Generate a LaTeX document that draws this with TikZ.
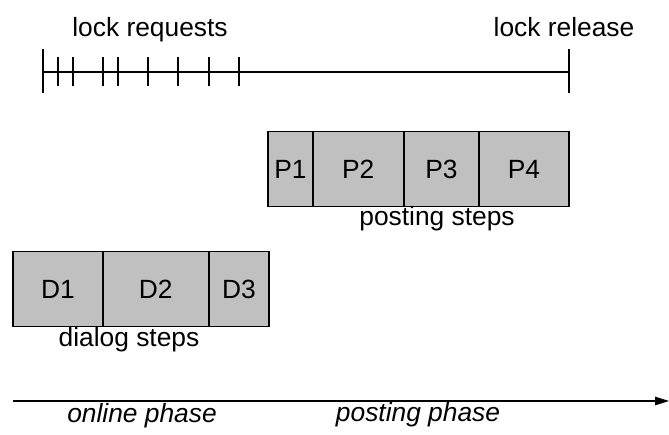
\documentclass[tikz,border=0pt]{standalone}
\usepackage{fontspec}
\setmainfont{Liberation Sans}
\usetikzlibrary{arrows.meta}
\definecolor{stepgray}{RGB}{192,192,192}

\begin{document}
\begin{tikzpicture}[x=0.02cm, y=-0.02cm,
% common options for the step boxes:
stepbox/.style = {draw, fill=stepgray, line width=0.6pt, anchor=west,
            minimum height=1.50cm, inner sep=0, outer sep=0,
            font=\fontsize{15}{18}\selectfont},
% common options for the labels:
lbl/.style = {anchor=base, inner sep=0, font=\fontsize{15}{18}\selectfont},
phase/.style = {lbl, font=\fontsize{15}{18}\selectfont\itshape}]
\useasboundingbox (0,0) rectangle (669,435);
% lock time line
\node[lbl] (req) at (150,37) {lock requests};
\node[lbl] (rel) at (564,37) {lock release};
\coordinate (L0) at (43,72);
\coordinate (L1) at (569,72);
\draw[line width=0.6pt] (L0) -- (L1);
\draw[line width=0.6pt] (43,49) -- (43,93);
\draw[line width=0.6pt] (569,49) -- (569,93);
\foreach \x in {58,73,103,118,148,178,209,239}
  \draw[line width=0.6pt] (\x,57) -- (\x,86);
% posting steps
\node[stepbox, minimum width=0.90cm] (P1) at (268,169) {P1};
\node[stepbox, minimum width=1.81cm] (P2) at (313,169) {P2};
\node[stepbox, minimum width=1.50cm] (P3) at (404,169) {P3};
\node[stepbox, minimum width=1.80cm] (P4) at (479,169) {P4};
\node[lbl] (post) at (437,226) {posting steps};
% dialog steps
\node[stepbox, minimum width=1.80cm] (D1) at (13,289) {D1};
\node[stepbox, minimum width=2.11cm] (D2) at (103,289) {D2};
\node[stepbox, minimum width=1.20cm] (D3) at (209,289) {D3};
\node[lbl] (dia) at (129,346) {dialog steps};
% time axis
\coordinate (T0) at (13,401);
\coordinate (T1) at (669,401);
\draw[line width=0.6pt, -{Triangle[length=0.28cm,width=0.17cm]}] (T0) -- (T1);
\node[phase] (on) at (142,422) {online phase};
\node[phase] (po) at (418,421) {posting phase};
\end{tikzpicture}
\end{document}
